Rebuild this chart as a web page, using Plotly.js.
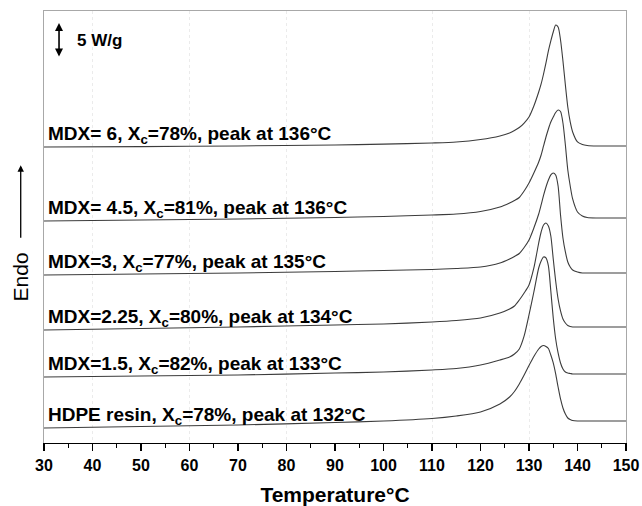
<!DOCTYPE html>
<html>
<head>
<meta charset="utf-8">
<script src="https://cdn.plot.ly/plotly-3.0.1.min.js"></script>
<style>html,body{margin:0;padding:0;background:#fff;}#chart{width:642px;height:506px;}</style>
</head>
<body>
<div id="chart"></div>
<script>
// Temperature grid (°C)
const temps = [30, 50, 70, 90, 100, 110, 115, 120, 124, 126, 127, 128, 129, 130, 131, 132, 132.5, 133, 133.5, 134, 134.5, 135, 135.5, 136, 136.5, 137, 137.5, 138, 138.5, 139, 140, 141, 142, 144, 150];

// Heat flow (W/g, curves offset vertically)
const mdx6 = [42.29, 42.34, 42.43, 42.57, 42.69, 42.86, 43.0, 43.36, 43.86, 44.29, 44.64, 45.07, 45.71, 46.57, 48.14, 50.14, 51.29, 52.71, 54.29, 56.0, 57.43, 58.71, 59.71, 59.43, 57.57, 54.57, 51.14, 48.0, 45.86, 44.43, 43.0, 42.64, 42.5, 42.43, 42.43];
const mdx45 = [31.71, 31.86, 32.0, 32.21, 32.36, 32.57, 32.71, 33.07, 33.71, 34.29, 34.64, 35.07, 36.0, 37.14, 38.57, 40.14, 41.14, 42.43, 43.71, 44.86, 45.86, 46.57, 47.21, 47.57, 47.36, 45.71, 42.57, 39.0, 36.71, 34.86, 33.0, 32.43, 32.21, 32.14, 32.14];
const mdx3 = [24.0, 24.14, 24.29, 24.5, 24.64, 24.79, 24.93, 25.14, 25.71, 26.29, 26.64, 27.07, 27.93, 29.0, 30.71, 32.71, 34.0, 35.36, 36.57, 37.57, 38.29, 38.57, 38.29, 36.71, 32.57, 29.29, 27.29, 25.86, 25.14, 24.71, 24.43, 24.29, 24.29, 24.29, 24.29];
const mdx225 = [16.14, 16.36, 16.57, 16.86, 17.0, 17.29, 17.5, 17.86, 18.57, 19.14, 19.57, 20.43, 21.43, 22.57, 25.0, 28.57, 30.14, 31.14, 31.43, 31.0, 29.57, 26.29, 23.14, 20.57, 18.86, 17.71, 17.14, 16.79, 16.64, 16.57, 16.57, 16.57, 16.57, 16.57, 16.57];
const mdx15 = [9.43, 9.57, 9.71, 10.0, 10.14, 10.43, 10.64, 11.14, 11.86, 12.29, 12.71, 13.43, 15.29, 18.29, 21.57, 25.0, 26.0, 26.57, 26.43, 25.29, 21.71, 17.86, 14.86, 12.86, 11.43, 10.57, 10.14, 10.0, 9.93, 9.86, 9.86, 9.86, 9.86, 9.86, 9.86];
const hdpe = [2.14, 2.36, 2.57, 2.93, 3.14, 3.5, 3.86, 4.43, 5.57, 6.57, 7.36, 8.43, 9.71, 11.07, 12.36, 13.43, 13.79, 13.93, 13.79, 13.5, 12.57, 11.43, 9.86, 8.0, 6.29, 5.0, 4.14, 3.57, 3.36, 3.21, 3.14, 3.14, 3.14, 3.14, 3.14];

const seriesNames = ["MDX= 6", "MDX= 4.5", "MDX=3", "MDX=2.25", "MDX=1.5", "HDPE resin"];
const crystallinity = ["78%", "81%", "77%", "80%", "82%", "78%"];
const peakTemps = ["136", "136", "135", "134", "133", "132"];
const allSeries = [mdx6, mdx45, mdx3, mdx225, mdx15, hdpe];

const xTicks = [30, 40, 50, 60, 70, 80, 90, 100, 110, 120, 130, 140, 150];
const gridTicks = [40, 60, 80, 110, 130];
const scaleBarWg = 5;

const FONT = "'Liberation Sans', Arial, sans-serif";

const traces = allSeries.map((ys, i) => ({
  type: 'scatter', mode: 'lines', x: temps, y: ys,
  name: seriesNames[i], showlegend: false,
  line: {color: '#3c3c3c', width: 1.1, shape: 'spline', smoothing: 0.7},
  hoverinfo: 'skip'
}));

const annotations = allSeries.map((ys, i) => ({
  xref: 'x', yref: 'y', x: 30.4, y: ys[0] + 1.65,
  xanchor: 'left', yanchor: 'middle', showarrow: false,
  text: '<b>' + seriesNames[i] + ', X<sub>c</sub>=' + crystallinity[i] + ', peak at ' + peakTemps[i] + '°C</b>',
  font: {family: FONT, size: 19, color: '#000'}
}));

// scale bar 5 W/g
const sbX = 33.1, sbTop = 60;
annotations.push({
  xref: 'x', yref: 'y', axref: 'x', ayref: 'y',
  x: sbX, y: sbTop, ax: sbX, ay: sbTop - scaleBarWg,
  showarrow: true, arrowside: 'end+start', arrowhead: 2, arrowsize: 1, arrowwidth: 1.6, arrowcolor: '#000', text: ''
});
annotations.push({
  xref: 'x', yref: 'y', x: 36.3, y: sbTop - scaleBarWg / 2,
  xanchor: 'left', yanchor: 'middle', showarrow: false,
  text: '<b>' + scaleBarWg + ' W/g</b>', font: {family: FONT, size: 17, color: '#000'}
});
// Endo label and arrow
annotations.push({
  xref: 'paper', yref: 'paper', x: -0.04, y: 0.385,
  xanchor: 'center', yanchor: 'middle', showarrow: false, textangle: -90,
  text: 'Endo', font: {family: FONT, size: 21, color: '#000'}
});
annotations.push({
  xref: 'paper', yref: 'paper', axref: 'pixel', ayref: 'pixel',
  x: -0.04, y: 0.643, ax: 0, ay: 74,
  showarrow: true, arrowhead: 2, arrowsize: 1, arrowwidth: 1.3, arrowcolor: '#000', text: ''
});

const layout = {
  width: 642, height: 506,
  margin: {l: 44, r: 16, t: 11, b: 63},
  paper_bgcolor: '#fff', plot_bgcolor: '#fff',
  font: {family: FONT, color: '#000'},
  xaxis: {
    range: [30, 150], tickvals: xTicks, ticktext: xTicks.map(v => '<b>' + v + '</b>'),
    ticks: 'outside', ticklen: 7, tickwidth: 1.4, tickcolor: '#000',
    showline: true, linecolor: '#000', linewidth: 1.4, showgrid: false, zeroline: false,
    minor: {dtick: 5, tick0: 30, ticks: 'outside', ticklen: 4, tickwidth: 1.2, tickcolor: '#000', showgrid: false},
    tickfont: {family: FONT, size: 16, color: '#000', weight: 700},
    title: {text: '<b>Temperature°C</b>', font: {family: FONT, size: 21, color: '#000'}, standoff: 14},
    automargin: false
  },
  xaxis2: {
    overlaying: 'x', anchor: 'y', side: 'top', range: [30, 150],
    tickvals: gridTicks, showticklabels: false, ticks: '',
    showgrid: true, gridcolor: '#ebebeb', griddash: 'dot', gridwidth: 1,
    showline: true, linecolor: '#a8a8a8', linewidth: 1, zeroline: false
  },
  yaxis: {
    range: [0, 61.71], showticklabels: false, ticks: '', showgrid: false, zeroline: false,
    showline: true, linecolor: '#a8a8a8', linewidth: 1, mirror: true
  },
  annotations: annotations
};

traces.push({type: 'scatter', mode: 'lines', x: [30, 150], y: [null, null], xaxis: 'x2', yaxis: 'y', showlegend: false, hoverinfo: 'skip'});

Plotly.newPlot('chart', traces, layout, {displayModeBar: false, staticPlot: true});
</script>
</body>
</html>
